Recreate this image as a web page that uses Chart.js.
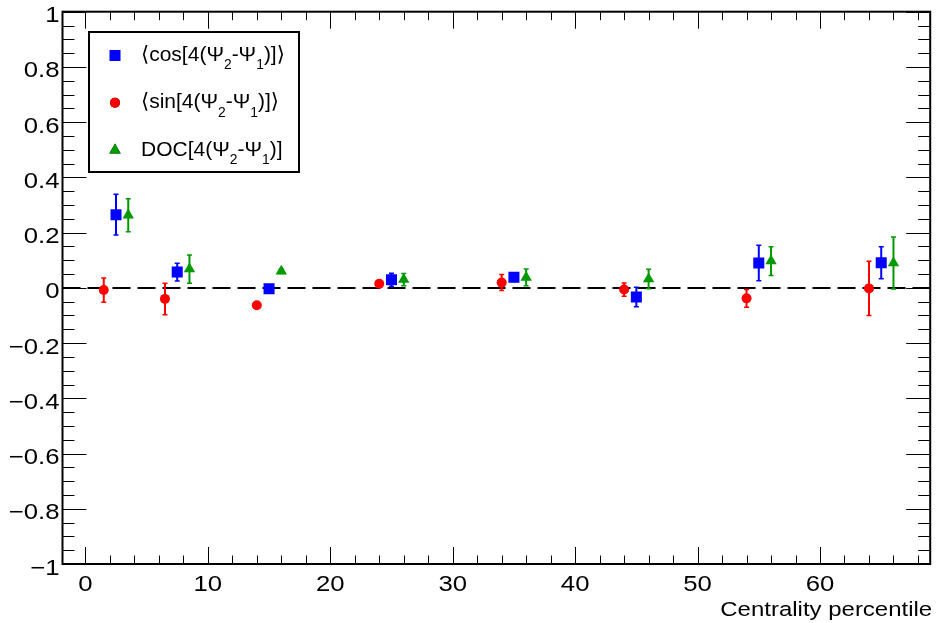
<!DOCTYPE html>
<html lang="en">
<head>
<meta charset="UTF-8">
<title>Event-plane correlations vs centrality</title>
<script src="https://cdn.jsdelivr.net/npm/chart.js"></script>
<style>
  html, body { margin: 0; padding: 0; background: #fff; }
  #wrap { width: 938px; height: 623px; }
</style>
</head>
<body>
<div id="wrap"><canvas id="corrChart" width="938" height="623"></canvas></div>
<script>
// centrality bins (each series shifted a little so the bars don't overlap)
const sinX = [1.5, 6.5, 14, 24, 34, 44, 54, 64];
const cosX = [2.5, 7.5, 15, 25, 35, 45, 55, 65];
const docX = [3.5, 8.5, 16, 26, 36, 46, 56, 66];

const cosVal = [0.265, 0.057, -0.003, 0.029, 0.038, -0.033, 0.090, 0.091];
const cosErr = [0.074, 0.032, 0.006, 0.024, 0.015, 0.035, 0.064, 0.058];
const sinVal = [-0.008, -0.040, -0.063, 0.015, 0.019, -0.006, -0.038, -0.002];
const sinErr = [0.044, 0.057, 0.006, 0.008, 0.029, 0.024, 0.032, 0.098];
const docVal = [0.263, 0.068, 0.060, 0.030, 0.038, 0.032, 0.097, 0.090];
const docErr = [0.060, 0.051, 0.008, 0.022, 0.030, 0.035, 0.052, 0.094];

const seriesNames = ['⟨cos[4(Ψ_{2}-Ψ_{1})]⟩', '⟨sin[4(Ψ_{2}-Ψ_{1})]⟩', 'DOC[4(Ψ_{2}-Ψ_{1})]'];

const xTickValues = [0, 10, 20, 30, 40, 50, 60];
const xTickLabels = ['0', '10', '20', '30', '40', '50', '60'];
const yTickValues = [1, 0.8, 0.6, 0.4, 0.2, 0, -0.2, -0.4, -0.6, -0.8, -1];
const yTickLabels = ['1', '0.8', '0.6', '0.4', '0.2', '0', '−0.2', '−0.4', '−0.6', '−0.8', '−1'];
const xTitle = 'Centrality percentile';

const FONT = "'Liberation Sans', 'DejaVu Sans', sans-serif";
const SX = 1.17; // axis text is drawn a bit wide

function pts(xs, ys) {
  return xs.map((x, i) => ({ x: x, y: ys[i] }));
}

// text with horizontal stretch
function wideText(ctx, str, x, y, align, size, sx) {
  ctx.save();
  ctx.font = size + 'px ' + FONT;
  ctx.translate(x, y);
  ctx.scale(sx || SX, 1);
  ctx.textAlign = align;
  ctx.textBaseline = 'alphabetic';
  ctx.fillText(str, 0, 0);
  ctx.restore();
}

// split "a_{b}c" into normal / subscript pieces
function parseLabel(str) {
  const parts = [];
  const re = /_\{([^}]*)\}/g;
  let last = 0, m;
  while ((m = re.exec(str)) !== null) {
    if (m.index > last) parts.push({ t: str.slice(last, m.index), sub: false });
    parts.push({ t: m[1], sub: true });
    last = re.lastIndex;
  }
  if (last < str.length) parts.push({ t: str.slice(last), sub: false });
  return parts;
}

function richText(ctx, str, x, y, size, sx) {
  let cx = x;
  parseLabel(str).forEach(p => {
    const fs = p.sub ? size * 0.66 : size;
    ctx.font = fs + 'px ' + FONT;
    const w = ctx.measureText(p.t).width * sx;
    wideText(ctx, p.t, cx, p.sub ? y + size * 0.4 : y, 'left', fs, sx);
    cx += w;
  });
}

const errorBars = {
  id: 'errorBars',
  beforeDatasetsDraw(chart) {
    const ctx = chart.ctx;
    const y = chart.scales.y;
    const area = chart.chartArea;

    // dashed zero line
    ctx.save();
    ctx.strokeStyle = '#000';
    ctx.lineWidth = 2;
    ctx.setLineDash([18, 7]);
    ctx.beginPath();
    ctx.moveTo(area.left, Math.round(y.getPixelForValue(0)));
    ctx.lineTo(area.right, Math.round(y.getPixelForValue(0)));
    ctx.stroke();
    ctx.restore();

    chart.data.datasets.forEach((ds, di) => {
      const meta = chart.getDatasetMeta(di);
      ctx.save();
      ctx.strokeStyle = ds.backgroundColor;
      meta.data.forEach((el, i) => {
        const v = ds.data[i].y, e = ds.errors[i];
        const top = y.getPixelForValue(v + e);
        const bot = y.getPixelForValue(v - e);
        ctx.lineWidth = 2;
        ctx.beginPath();
        ctx.moveTo(el.x, top);
        ctx.lineTo(el.x, bot);
        ctx.stroke();
        ctx.lineWidth = 1.5;
        ctx.beginPath();
        ctx.moveTo(el.x - 2.5, top);
        ctx.lineTo(el.x + 2.5, top);
        ctx.moveTo(el.x - 2.5, bot);
        ctx.lineTo(el.x + 2.5, bot);
        ctx.stroke();
      });
      ctx.restore();
    });
  }
};

const frameAndLegend = {
  id: 'frameAndLegend',
  afterDraw(chart) {
    const ctx = chart.ctx;
    const a = chart.chartArea;
    const xs = chart.scales.x, ys = chart.scales.y;

    ctx.save();
    ctx.strokeStyle = '#000';
    ctx.lineWidth = 2;
    ctx.strokeRect(a.left, a.top, a.right - a.left, a.bottom - a.top);

    // tick marks pointing inward on all four sides
    ctx.lineWidth = 1;
    ctx.beginPath();
    for (let v = 0; v <= 68; v += 2) {
      const px = Math.round(xs.getPixelForValue(v)) + 0.5;
      const len = v % 10 === 0 ? 17 : 8.5;
      ctx.moveTo(px, a.bottom); ctx.lineTo(px, a.bottom - len);
      ctx.moveTo(px, a.top); ctx.lineTo(px, a.top + len);
    }
    for (let k = -20; k <= 20; k++) {
      const py = Math.round(ys.getPixelForValue(k * 0.05)) + 0.5;
      const len = k % 4 === 0 ? 24 : 12;
      ctx.moveTo(a.left, py); ctx.lineTo(a.left + len, py);
      ctx.moveTo(a.right, py); ctx.lineTo(a.right - len, py);
    }
    ctx.stroke();

    // tick labels
    ctx.fillStyle = '#000';
    xTickValues.forEach((v, i) => {
      wideText(ctx, xTickLabels[i], xs.getPixelForValue(v), a.bottom + 27, 'center', 22);
    });
    yTickValues.forEach((v, i) => {
      wideText(ctx, yTickLabels[i], a.left - 3, ys.getPixelForValue(v) + 10.5, 'right', 22);
    });
    wideText(ctx, xTitle, a.right + 2, a.bottom + 52, 'right', 20.5);

    // legend box
    const lx = 89, ly = 32, lw = 210, lh = 140;
    ctx.fillStyle = '#fff';
    ctx.fillRect(lx, ly, lw, lh);
    ctx.lineWidth = 2;
    ctx.strokeStyle = '#000';
    ctx.strokeRect(lx, ly, lw, lh);

    const rows = [1, 0, 2];
    rows.forEach((di, r) => {
      const ds = chart.data.datasets[di];
      const my = 55.5 + r * 47.3;
      Chart.helpers.drawPoint(ctx, {
        pointStyle: ds.pointStyle, radius: ds.pointRadius, borderWidth: 0, rotation: 0
      }, 115, my);
      ctx.fillStyle = ds.backgroundColor;
      ctx.fill();
      ctx.fillStyle = '#000';
      richText(ctx, seriesNames[r], 141, my + 5.5, 21, 1);
    });
    ctx.restore();
  }
};

new Chart(document.getElementById('corrChart'), {
  type: 'scatter',
  data: {
    datasets: [
      { label: seriesNames[1], data: pts(sinX, sinVal), errors: sinErr,
        backgroundColor: '#ff0000', borderColor: '#ff0000',
        pointStyle: 'circle', pointRadius: 5, pointBorderWidth: 0 },
      { label: seriesNames[0], data: pts(cosX, cosVal), errors: cosErr,
        backgroundColor: '#0000ff', borderColor: '#0000ff',
        pointStyle: 'rect', pointRadius: 7.8, pointBorderWidth: 0 },
      { label: seriesNames[2], data: pts(docX, docVal), errors: docErr,
        backgroundColor: '#009900', borderColor: '#009900',
        pointStyle: 'triangle', pointRadius: 6.6, pointBorderWidth: 0 }
    ]
  },
  options: {
    responsive: false,
    animation: false,
    devicePixelRatio: 1,
    layout: { padding: { left: 62.5, right: 4, top: 11.7, bottom: 59 } },
    plugins: { legend: { display: false }, tooltip: { enabled: false } },
    scales: {
      x: { type: 'linear', min: -1.87, max: 69, display: false },
      y: { type: 'linear', min: -1, max: 1, display: false }
    }
  },
  plugins: [errorBars, frameAndLegend]
});
</script>
</body>
</html>
